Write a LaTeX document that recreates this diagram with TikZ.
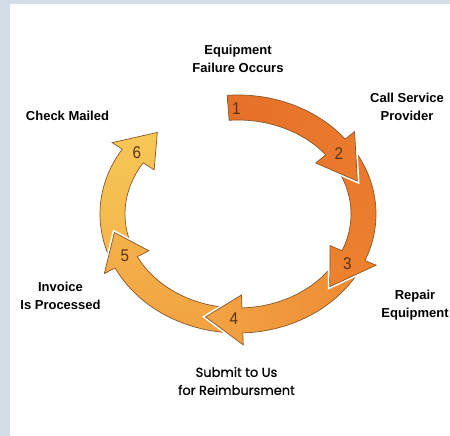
\documentclass[tikz,border=0pt]{standalone}
\usepackage{fontspec}
\setmainfont{Liberation Sans}
\newfontfamily\gothic{Poppins}[FakeBold=0.8]
\definecolor{frameblue}{HTML}{D2DDE7}
\definecolor{rim}{HTML}{8A5628}
\definecolor{numbrown}{HTML}{5C3314}

\begin{document}
\begin{tikzpicture}[x=1pt,y=1pt,
	lbl/.style={font=\fontsize{13}{18}\selectfont\bfseries, align=center},
	num/.style={font=\fontsize{17}{17}\selectfont, text=numbrown, xscale=0.9}]
	\useasboundingbox (0,0) rectangle (450,436);
	\fill[frameblue] (0,0) rectangle (450,436);
	\fill[white] (10,0) rectangle (450,432);
	
	% from the last arrow to the first, so that each head lies over the next tail
	\begin{scope}[shift={(238,222)}]
	\foreach \ca/\cb/\sa/\ts/\tb/\tp in {F4B64C/F6C757/180/-158/-213/-230, F2A242/F3B24A/180/-93/-153/-170, EE8C33/F2A444/-90/-31/-88/-105, E9772B/EC8330/0/31/-23/-43, E6702A/EA7A2C/90/94.5/39/18}{
	\definecolor{tailc}{HTML}{\ca}
	\definecolor{headc}{HTML}{\cb}
	\path[top color=tailc, bottom color=headc, shading angle=\sa, draw=rim, line width=0.7pt, preaction={draw=white, line width=4pt}]
		(\ts:138 and 119) arc[start angle=\ts, end angle=\tb, x radius=138, y radius=119]
		-- (\tb:150 and 131) -- (\tp:125.5 and 106.5) -- (\tb:100 and 81) -- (\tb:113 and 94)
		arc[start angle=\tb, end angle=\ts, x radius=113, y radius=94] -- cycle;
	}
	\end{scope}
	
	\node[num] (n1) at (236.5,327.5) {1};
	\node[num] (n2) at (339,282.5) {2};
	\node[num] (n3) at (347.5,172.5) {3};
	\node[num] (n4) at (234,117) {4};
	\node[num] (n5) at (125,180) {5};
	\node[num] (n6) at (137,283) {6};
	
	\node[lbl] (fail) at (238,377) {Equipment\\Failure Occurs};
	\node[lbl] (call) at (407,329) {Call Service\\Provider};
	\node[lbl] (repair) at (415,131) {Repair\\Equipment};
	\node[lbl] (invoice) at (60.5,140.5) {Invoice\\Is Processed};
	\node[lbl] (mailed) at (67.5,320) {Check Mailed};
	\node[font=\gothic\fontsize{13}{18}\selectfont, align=center] (submit) at (236.5,55) {Submit to Us\\for Reimbursment};
\end{tikzpicture}
\end{document}
